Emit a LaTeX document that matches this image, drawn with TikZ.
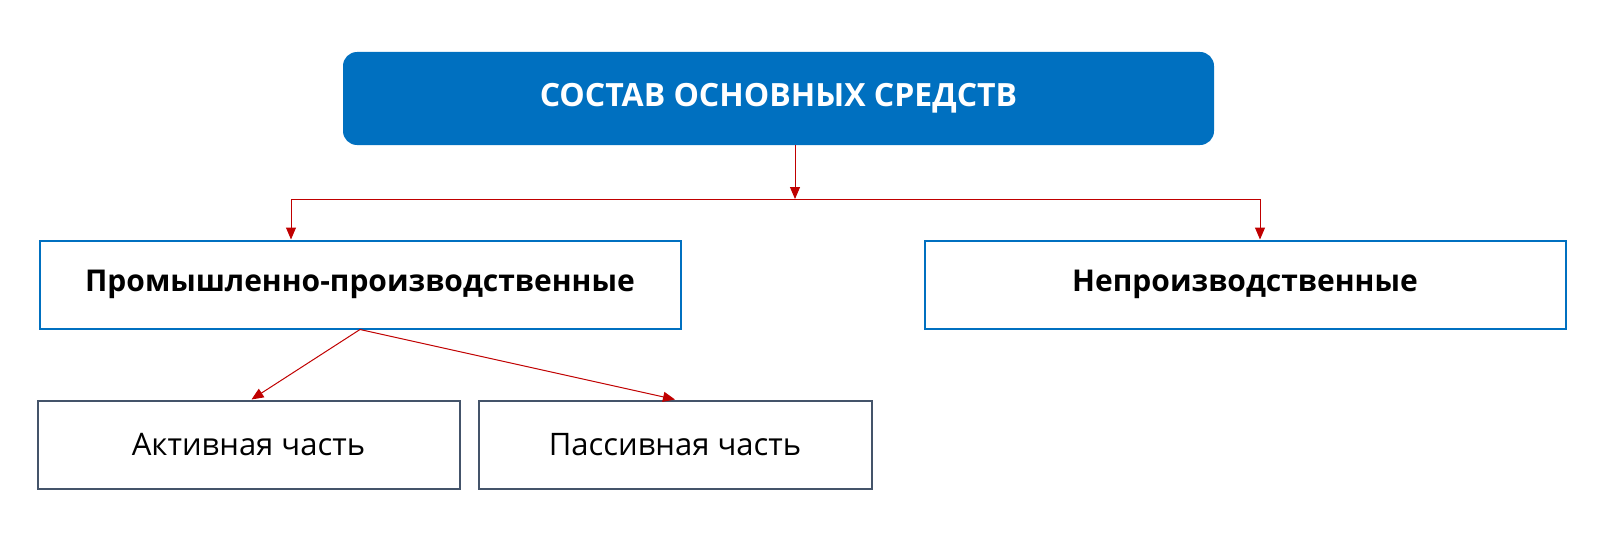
\documentclass[tikz,border=0pt]{standalone}
\usepackage{fontspec}
\setmainfont{Open Sans}
\usetikzlibrary{arrows.meta, positioning}
\definecolor{mainblue}{HTML}{0070C0}
\definecolor{slategray}{HTML}{44546A}
\definecolor{arrowred}{HTML}{C00000}

\begin{document}
\begin{tikzpicture}[
    x=1pt, y=-1pt,
    titlebox/.style={rectangle, rounded corners=14pt, fill=mainblue, text=white, minimum width=871pt, minimum height=93pt, font=\bfseries\fontsize{32}{36}\selectfont},
    groupbox/.style={rectangle, draw=mainblue, line width=2pt, minimum width=641pt, minimum height=88pt, font=\bfseries\fontsize{30}{36}\selectfont},
    partbox/.style={rectangle, draw=slategray, line width=2pt, minimum height=88pt, font=\fontsize{31}{36}\selectfont},
    arrow/.style={-{Triangle[width=10pt, length=12pt]}, arrowred, line width=1pt}
]
\useasboundingbox (0,0) rectangle (1597,543);

% Boxes
\node[titlebox] (fa) at (778.5,98.5) {СОСТАВ ОСНОВНЫХ СРЕДСТВ};
\node[groupbox] (ind) at (360,284.5) {Промышленно-производственные};
\node[groupbox] (nonind) at (1245,284.5) {Непроизводственные};
\node[partbox, minimum width=422pt] (act) at (248.5,444.5) {Активная часть};
\node[partbox, minimum width=393pt] (pas) at (675,444.5) {Пассивная часть};

% Branch points
\coordinate (split) at (795,199);
\coordinate (lft) at (291,199);
\coordinate (rgt) at (1260,199);

% Arrows
\draw[arrow] (fa.south -| split) -- (split);
\draw[arrowred, line width=1pt] (lft) -- (rgt);
\draw[arrow] (lft) -- (lft |- ind.north);
\draw[arrow] (rgt) -- (rgt |- nonind.north);
\draw[arrow] (ind.south) -- ([xshift=3pt]act.north);
\draw[arrow] (ind.south) -- (pas.north);

\end{tikzpicture}
\end{document}
